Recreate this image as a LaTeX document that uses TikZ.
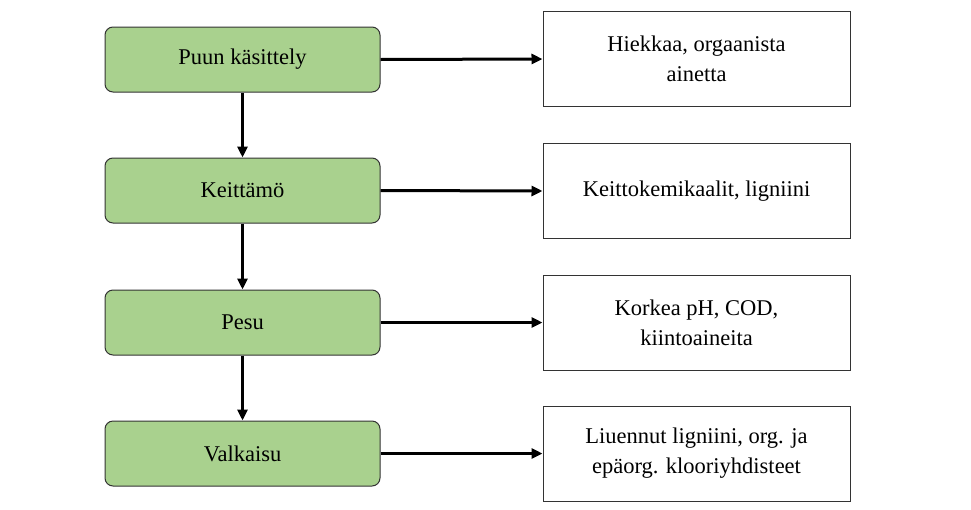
\documentclass[tikz,border=0pt]{standalone}
\usepackage{fontspec}
\setmainfont{Liberation Serif}
\usetikzlibrary{arrows.meta}
\definecolor{gfill}{HTML}{A9D18E}
\begin{document}
\begin{tikzpicture}[x=1pt,y=-1pt,
  gbox/.style={draw=black!80,fill=gfill,rounded corners=8pt,minimum width=275pt,minimum height=65pt,line width=1pt,font=\fontsize{22.5}{26}\selectfont},
  wbox/.style={draw=black!80,fill=white,minimum width=307pt,minimum height=95pt,line width=1pt,align=center,font=\fontsize{22.5}{30}\selectfont},
  arr/.style={-{Triangle[length=11pt,width=10pt]},line width=3pt}]
\useasboundingbox (0,0) rectangle (971,509);
\node[gbox] (g1) at (242.5,59.5) {Puun käsittely};
\node[gbox] (g2) at (242.5,190.5) {Keittämö};
\node[gbox] (g3) at (242.5,322.5) {Pesu};
\node[gbox] (g4) at (242.5,453.5) {Valkaisu};
\node[wbox] (w1) at (696.5,59) {Hiekkaa, orgaanista\\ainetta};
\node[wbox] (w2) at (696.5,191) {Keittokemikaalit, ligniini};
\node[wbox] (w3) at (696.5,322.5) {Korkea pH, COD,\\kiintoaineita};
\node[wbox] (w4) at (696.5,453.5) {Liuennut ligniini, org. ja\\epäorg. klooriyhdisteet};
\foreach \i in {1,2,3,4} \draw[arr] (g\i.east) -- (w\i.west);
\draw[arr] (g1.south) -- (g2.north);
\draw[arr] (g2.south) -- (g3.north);
\draw[arr] (g3.south) -- (g4.north);
\end{tikzpicture}
\end{document}
